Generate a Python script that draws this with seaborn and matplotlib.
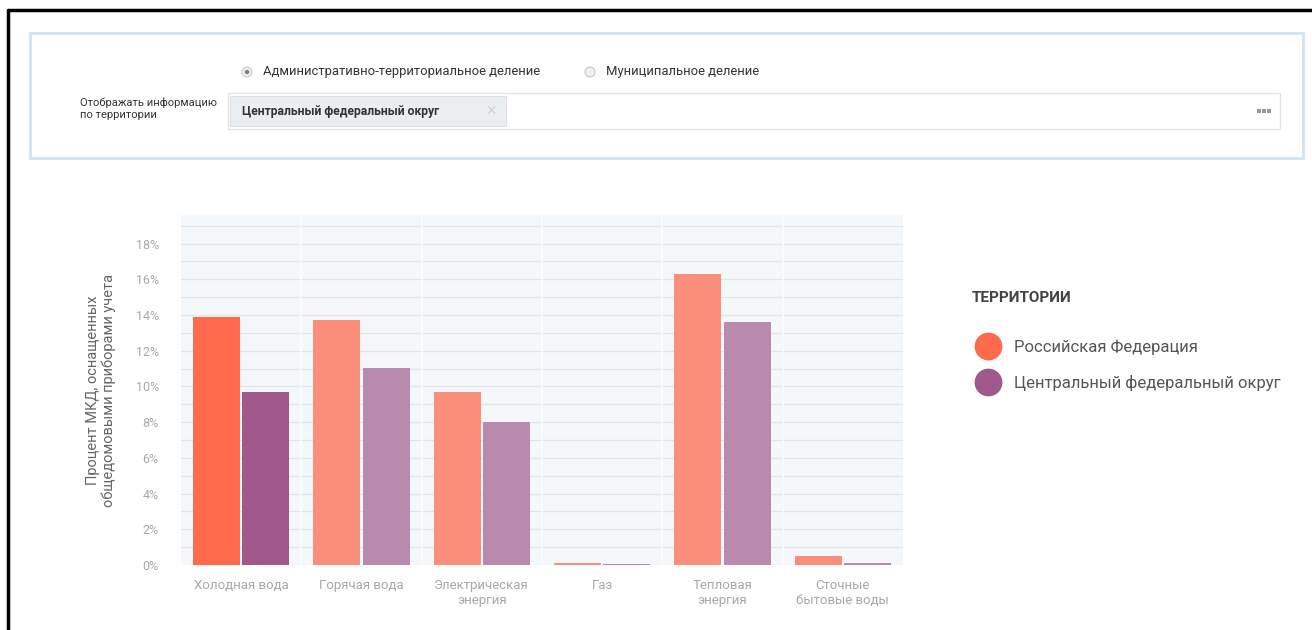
import matplotlib
matplotlib.use("Agg")
import matplotlib.pyplot as plt
import seaborn as sns
import pandas as pd
from matplotlib.patches import Rectangle, Ellipse
from matplotlib.lines import Line2D

categories = ['Холодная вода', 'Горячая вода', 'Электрическая\nэнергия', 'Газ',
              'Тепловая\nэнергия', 'Сточные\nбытовые воды']
series_names = ['Российская Федерация', 'Центральный федеральный округ']
rf_values = [13.9, 13.7, 9.7, 0.1, 16.3, 0.5]
cfd_values = [9.7, 11.05, 8.0, 0.07, 13.6, 0.12]
y_ticks = [0, 2, 4, 6, 8, 10, 12, 14, 16, 18]
y_tick_labels = [f"{t}%" for t in y_ticks]

sns.set_theme(style="white")
plt.rcParams['font.family'] = ['Roboto', 'DejaVu Sans']

W, H = 1312, 630
fig = plt.figure(figsize=(W / 100, H / 100), dpi=100)
fig.patch.set_facecolor('white')


def fx(x):
    return x / W


def fy(y):
    return 1 - y / H


# ---- chart ----
ax = fig.add_axes([fx(181), fy(565), fx(903) - fx(181), fy(215) - fy(565)])
df = pd.DataFrame({
    'category': categories * 2,
    'value': rf_values + cfd_values,
    'series': [series_names[0]] * len(categories) + [series_names[1]] * len(categories),
})
sns.barplot(data=df, x='category', y='value', hue='series', order=categories,
            hue_order=series_names, palette=['#f98f7a', '#b98aae'],
            width=0.82, gap=0.05, ax=ax, legend=False, saturation=1)

hi_colors = ['#ff6a4d', '#a0578a']
lo_colors = ['#f98f7a', '#b98aae']
for si, cont in enumerate(ax.containers):
    for ci, patch in enumerate(cont.patches):
        patch.set_facecolor(hi_colors[si] if ci == 0 else lo_colors[si])
        patch.set_edgecolor('none')
        patch.set_zorder(3)

ax.set_facecolor('#f5f8fb')
ax.set_xlim(-0.5, len(categories) - 0.5)
ax.set_ylim(0, 19.6)
for g in range(1, 20):
    ax.axhline(g, color='#e1e5ea', lw=0.9, zorder=1)
for b in range(len(categories) - 1):
    ax.axvline(b + 0.5, color='#fbfcfe', lw=1.2, zorder=2)
ax.set_yticks(y_ticks)
ax.set_yticklabels(y_tick_labels, color='#a8a8a8', fontsize=9)
ax.set_xticks(range(len(categories)))
ax.set_xticklabels(categories, color='#a8a8a8', fontsize=9.5, linespacing=1.2)
ax.tick_params(axis='both', length=0)
ax.tick_params(axis='y', pad=16)
ax.tick_params(axis='x', pad=10)
for s in ax.spines.values():
    s.set_visible(False)
ax.set_xlabel('')
ax.set_ylabel('Процент МКД, оснащенных\nобщедомовыми приборами учета',
              color='#666666', fontsize=10.5, labelpad=14, linespacing=1.1)

# ---- legend ----
fig.text(fx(972), fy(298), 'ТЕРРИТОРИИ', fontsize=11, fontweight='bold',
         color='#444444', va='center', ha='left')
handles = [Line2D([], [], marker='o', ls='none', markersize=19, color=c) for c in hi_colors]
leg = fig.legend(handles, series_names, loc='upper left',
                 bbox_to_anchor=(fx(971), fy(340)), frameon=False,
                 fontsize=12, labelcolor='#555555', handletextpad=0.6,
                 labelspacing=1.2, borderaxespad=0, borderpad=0)

# ---- top filter panel ----
fig.patches.append(Rectangle((fx(30), fy(158)), fx(1303) - fx(30), fy(33) - fy(158),
                             transform=fig.transFigure, fill=False,
                             edgecolor='#cfe3f2', lw=2))


def radio(x, y, checked):
    fig.patches.append(Ellipse((fx(x), fy(y)), 10 / W, 10 / H, transform=fig.transFigure,
                               facecolor='#f0f0f0', edgecolor='#c8c8c8', lw=0.8))
    if checked:
        fig.patches.append(Ellipse((fx(x), fy(y)), 4.5 / W, 4.5 / H,
                                   transform=fig.transFigure,
                                   facecolor='#808080', edgecolor='none'))


radio(247, 72, True)
fig.text(fx(263), fy(72), 'Административно-территориальное деление', fontsize=9.4,
         color='#333333', va='center', ha='left')
radio(590, 72, False)
fig.text(fx(606), fy(72), 'Муниципальное деление', fontsize=9.4,
         color='#333333', va='center', ha='left')
fig.text(fx(80), fy(109), 'Отображать информацию\nпо территории', fontsize=8.0,
         color='#333333', va='center', ha='left', linespacing=1.2)
fig.patches.append(Rectangle((fx(228), fy(129)), fx(1280) - fx(228), fy(93) - fy(129),
                             transform=fig.transFigure, facecolor='white',
                             edgecolor='#e3e3e3', lw=1))
fig.patches.append(Rectangle((fx(230), fy(126)), fx(506) - fx(230), fy(96) - fy(126),
                             transform=fig.transFigure, facecolor='#ebeef1',
                             edgecolor='#dde1e5', lw=0.8))
fig.text(fx(242), fy(111), 'Центральный федеральный округ', fontsize=8.7,
         fontweight='bold', color='#333333', va='center', ha='left')
fig.text(fx(491), fy(111), '×', fontsize=13, color='#cfd3d8', va='center', ha='center')
for dx in (1259, 1264, 1269):
    fig.patches.append(Rectangle((fx(dx - 2), fy(113)), 4 / W, 4 / H,
                                 transform=fig.transFigure, facecolor='#999999',
                                 edgecolor='none'))

# ---- outer frame ----
fig.add_artist(Line2D([fx(8), fx(1312)], [fy(10), fy(10)], color='black', lw=2.5,
                      transform=fig.transFigure))
fig.add_artist(Line2D([fx(8), fx(8)], [fy(10), fy(630)], color='black', lw=2.5,
                      transform=fig.transFigure))

fig.savefig('out.png', dpi=100)
